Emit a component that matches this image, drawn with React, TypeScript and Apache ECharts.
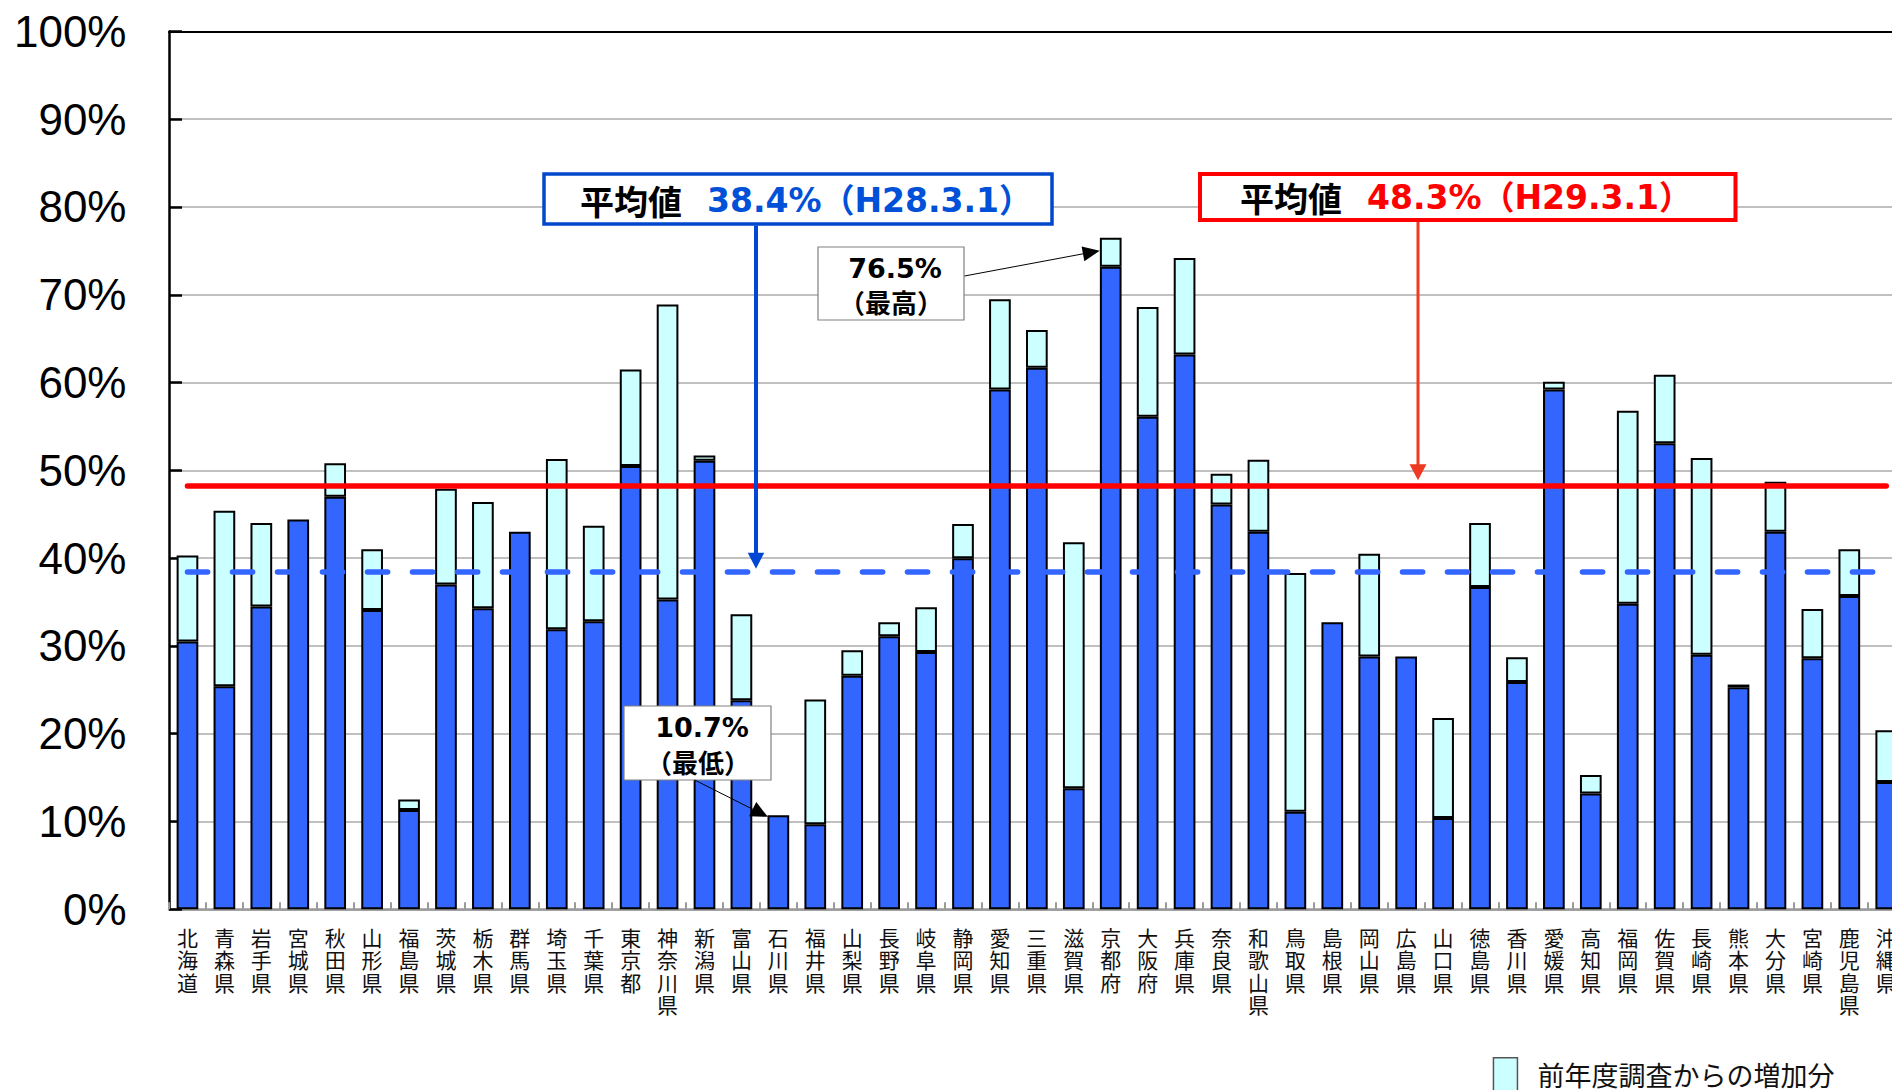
import React, { useEffect, useRef } from "react";
import * as echarts from "echarts";

const CATEGORIES = [
  "北海道", "青森県", "岩手県", "宮城県", "秋田県", "山形県", "福島県", "茨城県", "栃木県", "群馬県",
  "埼玉県", "千葉県", "東京都", "神奈川県", "新潟県", "富山県", "石川県", "福井県", "山梨県", "長野県",
  "岐阜県", "静岡県", "愛知県", "三重県", "滋賀県", "京都府", "大阪府", "兵庫県", "奈良県", "和歌山県",
  "鳥取県", "島根県", "岡山県", "広島県", "山口県", "徳島県", "香川県", "愛媛県", "高知県", "福岡県",
  "佐賀県", "長崎県", "熊本県", "大分県", "宮崎県", "鹿児島県", "沖縄県",
];

// previous-survey level (dark blue)
const BASE = [
  30.5, 25.4, 34.5, 44.4, 47.0, 34.1, 11.3, 37.0, 34.3, 43.0,
  31.9, 32.8, 50.5, 35.3, 51.1, 23.8, 10.7, 9.7, 26.6, 31.1,
  29.3, 40.0, 59.2, 61.7, 13.8, 73.2, 56.1, 63.2, 46.1, 43.0,
  11.1, 32.7, 28.8, 28.8, 10.4, 36.7, 25.9, 59.2, 13.2, 34.8,
  53.1, 29.0, 25.3, 43.0, 28.6, 35.7, 14.5,
];

// increase from previous survey (light cyan); null = no increase
const INCREASE: (number | null)[] = [
  9.8, 20.0, 9.5, null, 3.8, 6.9, 1.2, 10.9, 12.1, null,
  19.4, 10.9, 11.0, 33.6, 0.6, 9.8, null, 14.2, 2.9, 1.6,
  5.1, 3.9, 10.3, 4.3, 28.0, 3.3, 12.5, 11.0, 3.5, 8.2,
  27.2, null, 11.7, null, 11.4, 7.3, 2.8, 0.9, 2.1, 22.0,
  7.8, 22.4, 0.3, 5.7, 5.6, 5.3, 5.9,
];

const Y_MIN = 0;
const Y_MAX = 100;
const Y_STEP = 10;

const AVG_OLD = 38.4;
const AVG_OLD_DATE = "H28.3.1";
const AVG_NEW = 48.3;
const AVG_NEW_DATE = "H29.3.1";

const MAX_INDEX = 25;
const MAX_VALUE = 76.5;
const MIN_INDEX = 16;
const MIN_VALUE = 10.7;

const LEGEND_NAME = "前年度調査からの増加分";

const CJK = '"Noto Sans CJK JP", sans-serif';
const LATIN_BOLD = '"DejaVu Sans", "Noto Sans CJK JP", sans-serif';

function arrow(
  x1: number, y1: number, x2: number, y2: number,
  color: string, lw: number, headLen: number, headHalf: number
) {
  const dx = x2 - x1, dy = y2 - y1;
  const L = Math.hypot(dx, dy);
  const ux = dx / L, uy = dy / L;
  const bx = x2 - ux * headLen, by = y2 - uy * headLen;
  const nx = -uy, ny = ux;
  return [
    {
      type: "line", z: 100, silent: true,
      shape: { x1, y1, x2: bx + ux, y2: by + uy },
      style: { stroke: color, lineWidth: lw },
    },
    {
      type: "polygon", z: 100, silent: true,
      shape: {
        points: [
          [x2, y2],
          [bx + nx * headHalf, by + ny * headHalf],
          [bx - nx * headHalf, by - ny * headHalf],
        ],
      },
      style: { fill: color },
    },
  ];
}

export default function App() {
  const ref = useRef<HTMLDivElement>(null);

  useEffect(() => {
    const chart = echarts.init(ref.current!, null, { renderer: "svg" });
    const gridLeft = 169;
    const catW = 36.93;
    const option: any = {
      animation: false,
      backgroundColor: "#fff",
      grid: {
        left: gridLeft,
        top: 31.4,
        width: catW * CATEGORIES.length,
        height: 877.9,
        outerBoundsMode: "none",
      },
      legend: {
        data: [LEGEND_NAME],
        left: 1492.7,
        top: 1057,
        padding: 0,
        itemWidth: 24,
        itemHeight: 34,
        icon: "rect",
        selectedMode: false,
        itemStyle: { borderColor: "#555", borderWidth: 1.5 },
        textStyle: { fontSize: 27, fontFamily: CJK, color: "#111", padding: [0, 0, 0, 15] },
      },
      xAxis: [
        {
          type: "category",
          data: CATEGORIES,
          position: "bottom",
          axisLine: { show: true, lineStyle: { color: "#9a9a9a", width: 2.5 } },
          axisTick: { show: true, inside: true, length: 7, lineStyle: { color: "#9a9a9a", width: 2 } },
          axisLabel: {
            interval: 0,
            margin: 16,
            fontSize: 21,
            lineHeight: 22.5,
            fontFamily: CJK,
            color: "#111",
            formatter: (v: string) => v.split("").join("\n"),
          },
          splitLine: { show: false },
        },
        {
          type: "category",
          data: CATEGORIES,
          position: "top",
          axisLine: { show: true, lineStyle: { color: "#000", width: 2 } },
          axisTick: { show: false },
          axisLabel: { show: false },
          splitLine: { show: false },
        },
      ],
      yAxis: {
        type: "value",
        min: Y_MIN,
        max: Y_MAX,
        interval: Y_STEP,
        axisLine: { show: true, lineStyle: { color: "#000", width: 2.5 } },
        axisTick: { show: true, inside: true, length: 13, lineStyle: { color: "#000", width: 2.5 } },
        axisLabel: {
          formatter: "{value}%",
          fontSize: 44,
          fontFamily: '"Liberation Sans", Arial, sans-serif',
          color: "#000",
          margin: 42.5,
        },
        splitLine: { show: true, lineStyle: { color: "#c0c0c0", width: 2 } },
      },
      series: [
        {
          name: "前回調査",
          type: "bar",
          stack: "total",
          data: BASE,
          barWidth: 21.7,
          itemStyle: { color: "#3366ff", borderColor: "#000", borderWidth: 2 },
          emphasis: { disabled: true },
        },
        {
          name: LEGEND_NAME,
          type: "bar",
          stack: "total",
          data: INCREASE,
          barWidth: 21.7,
          itemStyle: { color: "#ccffff", borderColor: "#000", borderWidth: 2 },
          emphasis: { disabled: true },
          markLine: {
            silent: true,
            symbol: ["none", "none"],
            label: { show: false },
            emphasis: { disabled: true },
            z: 10,
            data: [
              [
                {
                  coord: [CATEGORIES[0], AVG_OLD],
                  lineStyle: { color: "#3366ff", width: 5.5, type: [20.2, 24.8], cap: "round" },
                },
                { coord: [CATEGORIES[CATEGORIES.length - 1], AVG_OLD] },
              ],
              [
                {
                  coord: [CATEGORIES[0], AVG_NEW],
                  lineStyle: { color: "#ff0000", width: 5.5, type: "solid", cap: "round" },
                },
                { coord: [CATEGORIES[CATEGORIES.length - 1], AVG_NEW] },
              ],
            ],
          },
        },
      ],
    };
    chart.setOption(option);

    const px = (i: number, v: number) =>
      chart.convertToPixel({ seriesIndex: 0 }, [CATEGORIES[i], v]) as number[];

    const yOld = px(0, AVG_OLD)[1];
    const yNew = px(0, AVG_NEW)[1];
    const maxPt = px(MAX_INDEX, MAX_VALUE);
    const minPt = px(MIN_INDEX, MIN_VALUE);

    const graphic: any[] = [
      // blue average box
      {
        type: "rect", z: 100, silent: true,
        shape: { x: 544, y: 174, width: 508, height: 50 },
        style: { fill: "#fff", stroke: "#0047cc", lineWidth: 3.5 },
      },
      {
        type: "text", z: 101, silent: true, x: 580, y: 200,
        style: {
          text: "平均値", fontSize: 34, fontWeight: "bold", fontFamily: CJK,
          fill: "#000", align: "left", verticalAlign: "middle",
        },
      },
      {
        type: "text", z: 101, silent: true, x: 707, y: 200,
        style: {
          text: `${AVG_OLD.toFixed(1)}%（${AVG_OLD_DATE}）`, fontSize: 33, fontWeight: "bold",
          fontFamily: LATIN_BOLD, fill: "#0050d8", align: "left", verticalAlign: "middle",
        },
      },
      ...arrow(756, 225.5, 756, yOld - 3.5, "#0047d4", 4, 16, 8.3),
      // red average box
      {
        type: "rect", z: 100, silent: true,
        shape: { x: 1200, y: 174, width: 535.5, height: 46 },
        style: { fill: "#fff", stroke: "#ff0000", lineWidth: 4 },
      },
      {
        type: "text", z: 101, silent: true, x: 1240, y: 197.5,
        style: {
          text: "平均値", fontSize: 34, fontWeight: "bold", fontFamily: CJK,
          fill: "#000", align: "left", verticalAlign: "middle",
        },
      },
      {
        type: "text", z: 101, silent: true, x: 1367, y: 197.5,
        style: {
          text: `${AVG_NEW.toFixed(1)}%（${AVG_NEW_DATE}）`, fontSize: 33, fontWeight: "bold",
          fontFamily: LATIN_BOLD, fill: "#ff0000", align: "left", verticalAlign: "middle",
        },
      },
      ...arrow(1418, 222, 1418, yNew - 5, "#ee3a22", 3, 16, 8.5),
      // max callout
      {
        type: "rect", z: 100, silent: true,
        shape: { x: 818, y: 247, width: 146, height: 73 },
        style: { fill: "#fff", stroke: "#808080", lineWidth: 1.2 },
      },
      {
        type: "text", z: 101, silent: true, x: 895, y: 268,
        style: {
          text: `${MAX_VALUE.toFixed(1)}%`, fontSize: 27, fontWeight: "bold", fontFamily: LATIN_BOLD,
          fill: "#000", align: "center", verticalAlign: "middle",
        },
      },
      {
        type: "text", z: 101, silent: true, x: 891, y: 301,
        style: {
          text: "（最高）", fontSize: 26, fontWeight: "bold", fontFamily: CJK,
          fill: "#000", align: "center", verticalAlign: "middle",
        },
      },
      ...arrow(964.5, 276, maxPt[0] - 11, maxPt[1] + 13, "#000", 1, 17, 7.5),
      // min callout
      {
        type: "rect", z: 100, silent: true,
        shape: { x: 624, y: 706, width: 147, height: 74 },
        style: { fill: "#fff", stroke: "#808080", lineWidth: 1.2 },
      },
      {
        type: "text", z: 101, silent: true, x: 702, y: 727.5,
        style: {
          text: `${MIN_VALUE.toFixed(1)}%`, fontSize: 27, fontWeight: "bold", fontFamily: LATIN_BOLD,
          fill: "#000", align: "center", verticalAlign: "middle",
        },
      },
      {
        type: "text", z: 101, silent: true, x: 698, y: 761,
        style: {
          text: "（最低）", fontSize: 26, fontWeight: "bold", fontFamily: CJK,
          fill: "#000", align: "center", verticalAlign: "middle",
        },
      },
      ...arrow(694.7, 780, minPt[0] - 10.5, minPt[1] + 1.5, "#000", 1, 17, 8),
    ];
    chart.setOption({ graphic });

    return () => chart.dispose();
  }, []);

  return (
    <div
      style={{
        position: "fixed", left: 0, top: 0, width: 1892, height: 1090,
        overflow: "hidden", background: "#fff",
      }}
    >
      <div ref={ref} style={{ width: 1920, height: 1090 }} />
    </div>
  );
}
